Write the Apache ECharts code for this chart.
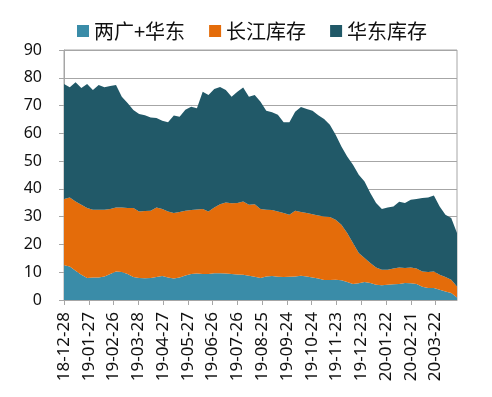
<!DOCTYPE html>
<html>
<head>
<meta charset="utf-8">
<script src="https://cdn.jsdelivr.net/npm/echarts@6/dist/echarts.min.js"></script>
<style>
  html, body { margin: 0; padding: 0; background: #fff; }
  #app { width: 492px; height: 397px; }
</style>
</head>
<body>
<div id="app"></div>
<script>
const app = document.getElementById("app");
const myChart = echarts.init(app);

// weekly dates
const dates = [
  "2018-12-28", "2019-01-04", "2019-01-11", "2019-01-18", "2019-01-25",
  "2019-02-01", "2019-02-08", "2019-02-15", "2019-02-22", "2019-03-01",
  "2019-03-08", "2019-03-15", "2019-03-22", "2019-03-29", "2019-04-05",
  "2019-04-12", "2019-04-19", "2019-04-26", "2019-05-03", "2019-05-10",
  "2019-05-17", "2019-05-24", "2019-05-31", "2019-06-07", "2019-06-14",
  "2019-06-21", "2019-06-28", "2019-07-05", "2019-07-12", "2019-07-19",
  "2019-07-26", "2019-08-02", "2019-08-09", "2019-08-16", "2019-08-23",
  "2019-08-30", "2019-09-06", "2019-09-13", "2019-09-20", "2019-09-27",
  "2019-10-04", "2019-10-11", "2019-10-18", "2019-10-25", "2019-11-01",
  "2019-11-08", "2019-11-15", "2019-11-22", "2019-11-29", "2019-12-06",
  "2019-12-13", "2019-12-20", "2019-12-27", "2020-01-03", "2020-01-10",
  "2020-01-17", "2020-01-24", "2020-01-31", "2020-02-07", "2020-02-14",
  "2020-02-21", "2020-02-28", "2020-03-06", "2020-03-13", "2020-03-20",
  "2020-03-27", "2020-04-03", "2020-04-10", "2020-04-17",
];

// 两广+华东
const lianguang = [
  12.5, 12.1, 10.5, 9.1, 7.9, 8.1, 8.1, 8.5, 9.4, 10.3,
  10.1, 9.4, 8.3, 7.9, 7.8, 7.9, 8.3, 8.6, 8.1, 7.7,
  8.1, 8.8, 9.4, 9.5, 9.4, 9.4, 9.6, 9.6, 9.5, 9.4,
  9.2, 9.1, 8.7, 8.4, 7.9, 8.5, 8.6, 8.4, 8.3, 8.4,
  8.5, 8.7, 8.5, 8.1, 7.7, 7.2, 7.2, 7.3, 7.1, 6.5,
  5.8, 6.0, 6.5, 6.1, 5.5, 5.3, 5.5, 5.7, 5.8, 6.1,
  6.0, 5.8, 4.8, 4.3, 4.3, 3.7, 3.1, 2.5, 0.9,
];

// 长江库存
const changjiang = [
  23.9, 24.8, 25.0, 25.2, 25.2, 24.4, 24.4, 24.0, 23.4, 23.0,
  23.2, 23.7, 24.8, 24.0, 24.2, 24.2, 25.0, 24.2, 23.8, 23.6,
  23.6, 23.3, 23.0, 23.1, 23.4, 22.5, 23.7, 24.9, 25.6, 25.4,
  25.7, 26.4, 25.6, 26.1, 24.9, 24.0, 23.8, 23.5, 23.0, 22.3,
  23.6, 23.0, 22.8, 22.8, 22.7, 22.9, 22.7, 21.6, 20.0, 17.6,
  14.7, 10.9, 8.6, 7.2, 6.2, 5.6, 5.4, 5.6, 5.9, 5.4,
  5.7, 5.5, 5.5, 5.8, 6.0, 5.4, 5.2, 4.8, 4.0,
];

// 华东库存
const huadong = [
  41.4, 39.7, 42.9, 42.0, 44.7, 43.1, 44.9, 44.1, 44.2, 44.1,
  39.9, 37.8, 35.3, 35.1, 34.5, 33.6, 32.2, 31.7, 32.1, 35.1,
  34.3, 36.4, 37.2, 36.4, 42.2, 41.9, 42.7, 42.2, 40.5, 38.4,
  40.1, 41.0, 38.9, 39.3, 38.6, 35.6, 35.2, 34.8, 32.7, 33.3,
  35.7, 37.8, 37.5, 37.2, 36.1, 35.1, 33.2, 30.6, 28.2, 27.6,
  28.2, 28.2, 27.6, 25.2, 23.2, 21.9, 22.4, 22.4, 23.7, 23.4,
  24.4, 25.1, 26.4, 26.8, 27.3, 24.6, 22.4, 22.2, 19.2,
];

// x-axis tick labels
const tickDates = [
  "2018-12-28", "2019-01-27", "2019-02-26", "2019-03-28", "2019-04-27",
  "2019-05-27", "2019-06-26", "2019-07-26", "2019-08-25", "2019-09-24",
  "2019-10-24", "2019-11-23", "2019-12-23", "2020-01-22", "2020-02-21",
  "2020-03-22",
];

const toTime = (s) => +echarts.time.parse(s);
const tMin = toTime(dates[0]);
const tMax = toTime(dates[dates.length - 1]);
const tickTimes = tickDates.map(toTime);
const pairs = (arr) => arr.map((v, i) => [dates[i], v]);

const makeSeries = (name, data, color) => ({
  name: name,
  type: "line",
  stack: "total",
  xAxisIndex: 0,
  data: pairs(data),
  symbol: "none",
  showSymbol: false,
  lineStyle: { width: 0 },
  areaStyle: { color: color, opacity: 1 },
  itemStyle: { color: color },
  animation: false,
});

const option = {
  backgroundColor: "#fff",
  textStyle: { fontFamily: "Noto Sans" },
  legend: {
    left: 72,
    top: 16,
    icon: "rect",
    itemWidth: 12,
    itemHeight: 12,
    itemGap: 24,
    textStyle: {
      fontFamily: "Noto Sans CJK SC",
      fontSize: 20,
      color: "#111",
    },
  },
  grid: {
    left: 64,
    right: 35,
    top: 50,
    bottom: 97,
    show: true,
    borderColor: "#A6A6A6",
    borderWidth: 1,
  },
  xAxis: [
    {
      // time axis carrying the series
      type: "time",
      min: tMin,
      max: tMax,
      axisLine: { show: true, lineStyle: { color: "#A6A6A6" } },
      axisTick: { show: false },
      axisLabel: { show: false },
      splitLine: { show: false },
    },
    {
      // same span, labels every 30 days
      type: "value",
      position: "bottom",
      min: tMin,
      max: tMax,
      axisLine: { show: false },
      axisTick: {
        show: true,
        inside: false,
        length: 5,
        customValues: tickTimes,
        lineStyle: { color: "#A6A6A6" },
      },
      splitLine: { show: false },
      axisLabel: {
        customValues: tickTimes,
        rotate: 90,
        margin: 12,
        fontSize: 17,
        color: "#111",
        fontFamily: "Noto Sans",
        formatter: (v) => echarts.time.format(v, "{yy}-{MM}-{dd}", false),
      },
    },
  ],
  yAxis: {
    type: "value",
    min: 0,
    max: 90,
    interval: 10,
    axisLine: { show: true, lineStyle: { color: "#A6A6A6" } },
    axisTick: { show: true, inside: false, length: 5, lineStyle: { color: "#A6A6A6" } },
    splitLine: { show: true, lineStyle: { color: "#A6A6A6", width: 1 } },
    axisLabel: {
      margin: 22,
      fontSize: 16,
      color: "#111",
      fontFamily: "Noto Sans",
    },
  },
  series: [
    makeSeries("两广+华东", lianguang, "#3A8CA8"),
    makeSeries("长江库存", changjiang, "#E46C0A"),
    makeSeries("华东库存", huadong, "#215968"),
  ],
};

myChart.setOption(option);
</script>
</body>
</html>
